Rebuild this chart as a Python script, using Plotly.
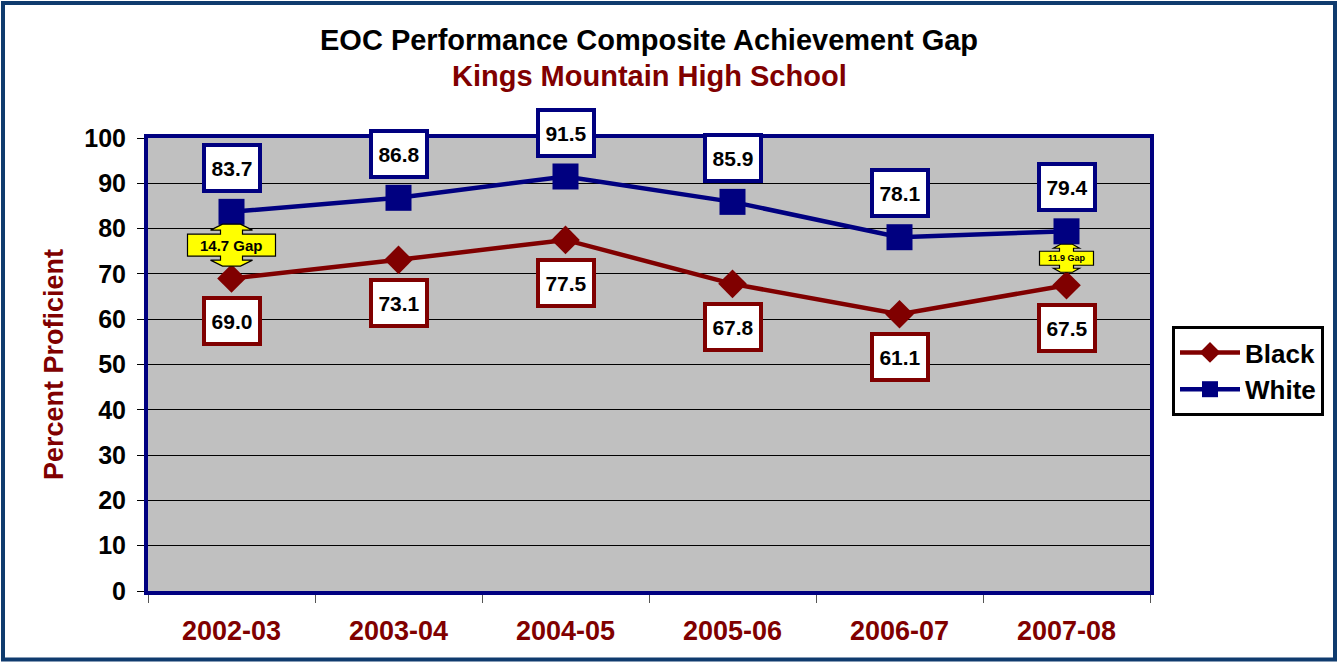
import plotly.graph_objects as go

# ---- data ----
years = ["2002-03", "2003-04", "2004-05", "2005-06", "2006-07", "2007-08"]
black = [69.0, 73.1, 77.5, 67.8, 61.1, 67.5]
white = [83.7, 86.8, 91.5, 85.9, 78.1, 79.4]
gap_years = [0, 5]          # indices where the gap callout is shown
y_ticks = [0, 10, 20, 30, 40, 50, 60, 70, 80, 90, 100]

title_text = "EOC Performance Composite Achievement Gap"
subtitle_text = "Kings Mountain High School"

# ---- style ----
W, H = 1339, 662
ML, MR, MT, MB = 148, 189, 138, 71
PW, PH = W - ML - MR, H - MT - MB
FONT = "Liberation Sans, Arial, sans-serif"
MAROON = "#800000"
NAVY = "#000080"


def px2x(p):
    return (p - ML) / PW


def py2y(p):
    return (H - MB - p) / PH


fig = go.Figure()
fig.add_trace(go.Scatter(
    x=years, y=black, name="Black", mode="lines+markers",
    line=dict(color=MAROON, width=4.5),
    marker=dict(symbol="diamond", size=22, color=MAROON),
))
fig.add_trace(go.Scatter(
    x=years, y=white, name="White", mode="lines+markers",
    line=dict(color=NAVY, width=4.5),
    marker=dict(symbol="square", size=26, color=NAVY),
))

annotations = []
for yr, v in zip(years, white):
    annotations.append(dict(
        x=yr, y=v, xref="x", yref="y", text=f"{v:.1f}", showarrow=False,
        yshift=44, width=48, height=38, borderpad=2, borderwidth=4,
        bordercolor=NAVY, bgcolor="white",
        font=dict(family=FONT, size=21, color="black", weight="bold"),
    ))
for yr, v in zip(years, black):
    annotations.append(dict(
        x=yr, y=v, xref="x", yref="y", text=f"{v:.1f}", showarrow=False,
        yshift=-43, width=48, height=38, borderpad=2, borderwidth=4,
        bordercolor=MAROON, bgcolor="white",
        font=dict(family=FONT, size=21, color="black", weight="bold"),
    ))

shapes = []
for i, gi in enumerate(gap_years):
    mid = (white[gi] + black[gi]) / 2
    gap = white[gi] - black[gi]
    if i == 0:
        bw, bh, nw, hw, hb, ht, tw, fs = 44, 11, 11, 21, 15, 21, 9, 15
    else:
        bw, bh, nw, hw, hb, ht, tw, fs = 27, 7, 7, 13, 10, 14, 6, 9
    path = (f"M{-bw},{-bh} L{-bw},{bh} L{-nw},{bh} L{-nw},{hb} L{-hw},{hb} "
            f"L{-tw},{ht} L{tw},{ht} L{hw},{hb} L{nw},{hb} L{nw},{bh} L{bw},{bh} "
            f"L{bw},{-bh} L{nw},{-bh} L{nw},{-hb} L{hw},{-hb} L{tw},{-ht} "
            f"L{-tw},{-ht} L{-hw},{-hb} L{-nw},{-hb} L{-nw},{-bh} Z")
    shapes.append(dict(
        type="path", xref="x", yref="y", xsizemode="pixel", ysizemode="pixel",
        xanchor=years[gi], yanchor=mid, path=path,
        fillcolor="#FFFF00", line=dict(color="black", width=1.2), layer="above",
    ))
    annotations.append(dict(
        x=years[gi], y=mid, xref="x", yref="y", text=f"{gap:.1f} Gap",
        showarrow=False,
        font=dict(family=FONT, size=fs, color="black", weight="bold"),
    ))

# titles
annotations.append(dict(
    x=0.5, y=py2y(40), xref="paper", yref="paper",
    text=title_text, showarrow=False, yanchor="middle",
    font=dict(family=FONT, size=29, color="black", weight="bold"),
))
annotations.append(dict(
    x=0.5, y=py2y(76), xref="paper", yref="paper",
    text=subtitle_text, showarrow=False, yanchor="middle",
    font=dict(family=FONT, size=29, color=MAROON, weight="bold"),
))

# outer border of the whole chart
shapes.append(dict(
    type="rect", xref="paper", yref="paper",
    x0=px2x(3), x1=px2x(1335), y0=py2y(659.5), y1=py2y(3),
    line=dict(color="#0F3B6E", width=4), fillcolor="rgba(0,0,0,0)", layer="below",
))

fig.update_layout(
    width=W, height=H,
    margin=dict(l=ML, r=MR, t=MT, b=MB, pad=0),
    paper_bgcolor="white", plot_bgcolor="#C0C0C0",
    font=dict(family=FONT),
    showlegend=True,
    legend=dict(
        x=px2x(1172), y=py2y(371), xanchor="left", yanchor="middle",
        bordercolor="black", borderwidth=3, bgcolor="white",
        font=dict(family=FONT, size=26, color="black", weight="bold"),
        itemwidth=60, tracegroupgap=0,
    ),
    annotations=annotations,
    shapes=shapes,
)
fig.update_xaxes(
    type="category", categoryorder="array", categoryarray=years,
    range=[-0.5, len(years) - 0.5],
    showline=True, linecolor=NAVY, linewidth=4, mirror=True,
    showgrid=False, tickson="boundaries", ticks="outside", ticklen=8,
    tickcolor="#555555", tickwidth=1, ticklabelstandoff=13,
    tickfont=dict(family=FONT, size=27, color=MAROON, weight="bold"),
)
fig.update_yaxes(
    range=[0, 100], tickvals=y_ticks,
    showline=True, linecolor=NAVY, linewidth=4, mirror=True,
    showgrid=True, gridcolor="black", gridwidth=1, zeroline=False,
    ticks="outside", ticklen=7, tickcolor="black", tickwidth=1,
    ticklabelstandoff=6,
    tickfont=dict(family=FONT, size=25, color="black", weight="bold"),
    title=dict(text="Percent Proficient", standoff=14,
               font=dict(family=FONT, size=27, color=MAROON, weight="bold")),
)

fig.write_html("out.html", config={"displayModeBar": False},
               post_script="document.body.style.margin='0';")
